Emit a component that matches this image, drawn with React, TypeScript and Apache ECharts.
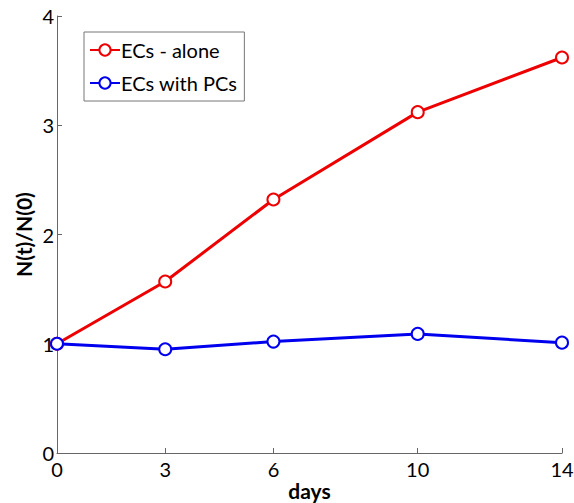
import React, { useEffect, useRef } from "react";
import * as echarts from "echarts";

const days = [0, 3, 6, 10, 14];
const xTicks = [0, 3, 6, 10, 14];
const yTicks = [0, 1, 2, 3, 4];
const alone = [1.0, 1.57, 2.32, 3.12, 3.62];
const withPCs = [1.0, 0.95, 1.02, 1.09, 1.01];
const seriesNames = ["ECs - alone", "ECs with PCs"];

const FONT = "Lato";

export default function App() {
  const ref = useRef<HTMLDivElement>(null);
  useEffect(() => {
    const chart = echarts.init(ref.current!, null, { renderer: "svg" });
    const mk = (name: string, ys: number[], color: string) => ({
      name,
      type: "line",
      data: days.map((d, i) => [d, ys[i]]),
      symbol: "emptyCircle",
      symbolSize: 12,
      lineStyle: { color, width: 3 },
      itemStyle: { color, borderColor: color, borderWidth: 2.5 },
    });
    chart.setOption({
      animation: false,
      backgroundColor: "#fff",
      grid: { left: 57, right: 12, top: 16, bottom: 50, outerBoundsMode: "none", containLabel: false },
      legend: {
        orient: "vertical",
        left: 84,
        top: 32,
        padding: [8, 7, 8, 5],
        itemGap: 13,
        itemWidth: 30,
        itemHeight: 14,
        borderColor: "#777",
        borderWidth: 1,
        borderRadius: 0,
        textStyle: { fontFamily: FONT, fontSize: 20, color: "#000", padding: [0, 0, 0, -4] },
        data: seriesNames,
      },
      xAxis: {
        type: "value",
        min: 0,
        max: 14,
        name: "days",
        nameLocation: "middle",
        nameGap: 26,
        nameMoveOverlap: false,
        nameTextStyle: { fontFamily: FONT, fontSize: 21, fontWeight: "bold", color: "#000", lineHeight: 23 },
        splitLine: { show: false },
        axisLine: { lineStyle: { color: "#666", width: 1 } },
        axisTick: { inside: true, length: 5, customValues: xTicks, lineStyle: { color: "#666" } },
        axisLabel: { customValues: xTicks, fontFamily: FONT, fontSize: 20, color: "#000", margin: 6 },
      },
      yAxis: {
        type: "value",
        min: 0,
        max: 4,
        interval: 1,
        name: "N(t)/N(0)",
        nameLocation: "middle",
        nameGap: 23,
        nameMoveOverlap: false,
        nameTextStyle: { fontFamily: FONT, fontSize: 21, fontWeight: "bold", color: "#000" },
        splitLine: { show: false },
        axisLine: { show: true, lineStyle: { color: "#666", width: 1 } },
        axisTick: { show: true, inside: true, length: 5, lineStyle: { color: "#666" } },
        axisLabel: { fontFamily: FONT, fontSize: 20, color: "#000", margin: 3, formatter: (v: number) => (yTicks.includes(v) ? String(v) : "") },
      },
      series: [mk(seriesNames[0], alone, "#ee0000"), mk(seriesNames[1], withPCs, "#0000ee")],
    });
    return () => chart.dispose();
  }, []);
  return <div ref={ref} style={{ position: "absolute", left: 0, top: 0, width: 574, height: 503 }} />;
}
